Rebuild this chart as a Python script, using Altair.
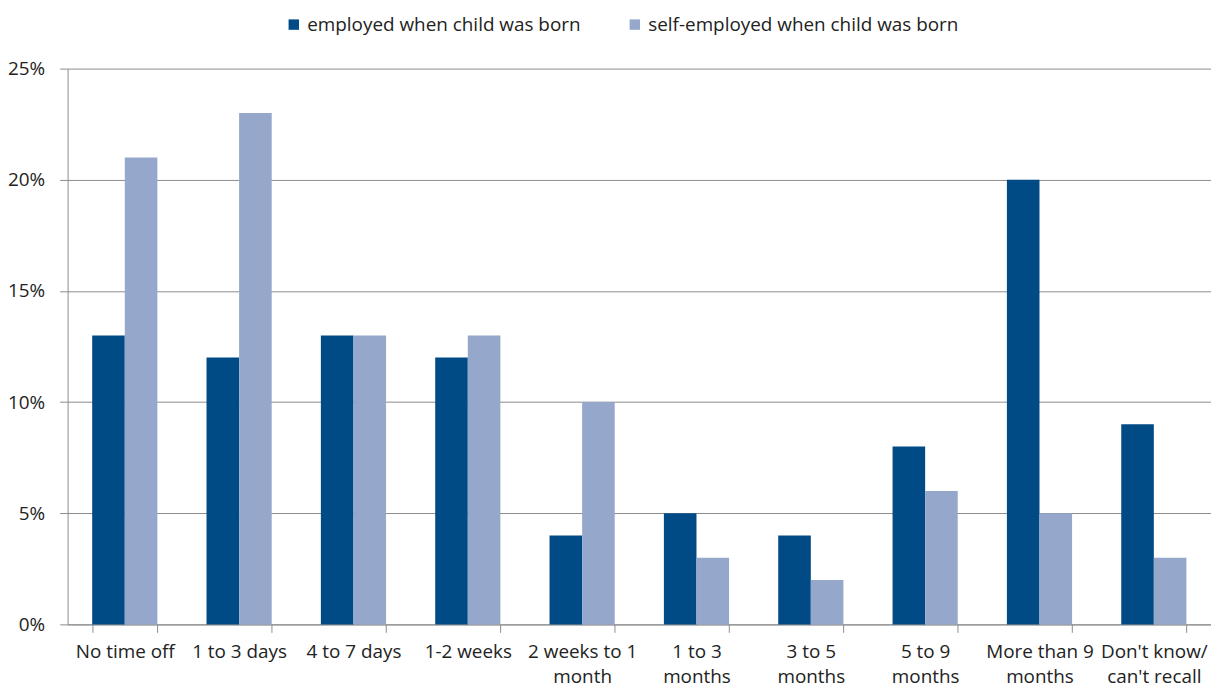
import altair as alt
import pandas as pd

# Share of parents by time taken off work after a child's birth
categories = [
    "No time off", "1 to 3 days", "4 to 7 days", "1-2 weeks",
    "2 weeks to 1|month", "1 to 3|months", "3 to 5|months",
    "5 to 9|months", "More than 9|months", "Don't know/|can't recall",
]
employed = [13, 12, 13, 12, 4, 5, 4, 8, 20, 9]
self_employed = [21, 23, 13, 13, 10, 3, 2, 6, 5, 3]
series_names = ["employed when child was born", "self-employed when child was born"]
series_colors = ["#004A86", "#95A8CB"]
y_ticks = [0, 5, 10, 15, 20, 25]

rows = []
for cat, e, s in zip(categories, employed, self_employed):
    rows.append({"category": cat, "series": series_names[0], "share": e})
    rows.append({"category": cat, "series": series_names[1], "share": s})
df = pd.DataFrame(rows)

FONT = "Open Sans"
FONT_SIZE = 19
GRAY = "#8C8C8C"
TEXT = "#222222"

chart = (
    alt.Chart(df)
    .mark_bar()
    .encode(
        x=alt.X(
            "category:N",
            sort=categories,
            title=None,
            scale=alt.Scale(paddingInner=0.43, paddingOuter=0.215),
            axis=alt.Axis(
                labelAngle=0,
                labelExpr="split(datum.label, '|')",
                labelLineHeight=25,
                labelBaseline="top",
                labelPadding=10,
                tickBand="extent",
                tickSize=8,
                tickColor=GRAY,
                domainColor=GRAY,
                labelFont=FONT,
                labelFontSize=FONT_SIZE,
                labelColor=TEXT,
                labelLimit=200,
            ),
        ),
        xOffset=alt.XOffset("series:N", sort=series_names),
        y=alt.Y(
            "share:Q",
            title=None,
            scale=alt.Scale(domain=[0, 25], nice=False),
            axis=alt.Axis(
                values=y_ticks,
                labelExpr="datum.value + '%'",
                tickSize=8,
                tickColor=GRAY,
                domainColor=GRAY,
                gridColor=GRAY,
                labelPadding=15,
                labelFont=FONT,
                labelFontSize=FONT_SIZE,
                labelColor=TEXT,
            ),
        ),
        color=alt.Color(
            "series:N",
            sort=series_names,
            scale=alt.Scale(domain=series_names, range=series_colors),
            legend=alt.Legend(
                title=None,
                orient="none",
                direction="horizontal",
                legendX=218,
                legendY=-54,
                symbolType="square",
                symbolSize=110,
                symbolStrokeWidth=0,
                columnPadding=44,
                labelOffset=4,
                labelFont=FONT,
                labelFontSize=FONT_SIZE,
                labelColor=TEXT,
                labelLimit=400,
            ),
        ),
    )
    .properties(
        width=1150,
        height=559,
        padding={"left": 68, "top": 67, "right": 0, "bottom": 64},
        autosize=alt.AutoSizeParams(type="none"),
    )
    .configure_view(stroke=None)
    .configure_axis(grid=True, domainWidth=1, gridWidth=1)
    .configure_axisX(grid=False)
)

chart.save("out.html", embed_options={"renderer": "svg", "actions": False})
